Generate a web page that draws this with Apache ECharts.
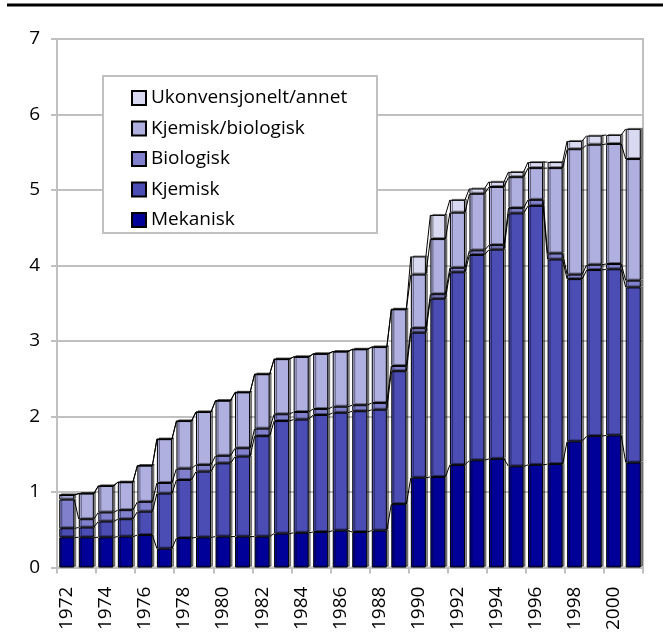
<!DOCTYPE html>
<html>
<head>
<meta charset="utf-8">
<script src="https://cdn.jsdelivr.net/npm/echarts@6/dist/echarts.min.js"></script>
<style>
  html, body { margin: 0; padding: 0; background: #fff; }
  #chart { width: 663px; height: 633px; }
</style>
</head>
<body>
<div id="chart"></div>
<script>
const years = [];
for (let y = 1972; y <= 2001; y++) years.push(String(y));

const mekanisk = [0.40, 0.40, 0.40, 0.41, 0.43, 0.25, 0.39, 0.40, 0.41, 0.41,
  0.41, 0.45, 0.46, 0.47, 0.49, 0.47, 0.49, 0.84, 1.19, 1.20,
  1.36, 1.42, 1.44, 1.34, 1.36, 1.37, 1.67, 1.74, 1.75, 1.39];
const kjemisk = [0.12, 0.13, 0.21, 0.23, 0.31, 0.73, 0.77, 0.87, 0.97, 1.06,
  1.33, 1.49, 1.50, 1.55, 1.56, 1.60, 1.60, 1.76, 1.92, 2.36,
  2.55, 2.72, 2.77, 3.35, 3.43, 2.71, 2.15, 2.20, 2.20, 2.32];
const biologisk = [0.38, 0.11, 0.12, 0.12, 0.13, 0.14, 0.15, 0.09, 0.10, 0.11,
  0.10, 0.09, 0.10, 0.08, 0.08, 0.08, 0.09, 0.07, 0.06, 0.06,
  0.06, 0.06, 0.06, 0.07, 0.08, 0.08, 0.06, 0.07, 0.07, 0.09];
const kjemiskBiologisk = [0.06, 0.34, 0.35, 0.37, 0.48, 0.58, 0.63, 0.70, 0.73, 0.74,
  0.72, 0.73, 0.73, 0.73, 0.73, 0.74, 0.74, 0.75, 0.71, 0.73,
  0.73, 0.75, 0.77, 0.41, 0.42, 1.13, 1.66, 1.59, 1.59, 1.61];
const ukonvensjonelt = [0, 0, 0, 0, 0, 0, 0, 0, 0, 0,
  0, 0, 0, 0, 0, 0, 0, 0, 0.24, 0.32,
  0.17, 0.07, 0.07, 0.07, 0.08, 0.08, 0.11, 0.12, 0.12, 0.40];

const yTicks = [0, 1, 2, 3, 4, 5, 6, 7];

const names = ['Mekanisk', 'Kjemisk', 'Biologisk', 'Kjemisk/biologisk', 'Ukonvensjonelt/annet'];
const values = [mekanisk, kjemisk, biologisk, kjemiskBiologisk, ukonvensjonelt];
const colors = ['#000099', '#4b4db5', '#8080cc', '#b0b0e0', '#d9d9f1'];

const font = 'Open Sans, DejaVu Sans, sans-serif';

// cumulative tops for the connecting lines between bars
const lineData = [];
const cum = years.map(() => 0);
values.forEach(function (arr) {
  arr.forEach(function (v, i) { cum[i] += v; });
  for (let i = 0; i < years.length - 1; i++) {
    lineData.push([i, cum[i], cum[i + 1]]);
  }
});

const barSeries = names.map(function (n, k) {
  return {
    name: n,
    type: 'bar',
    stack: 'total',
    barWidth: '77%',
    data: values[k],
    itemStyle: {
      color: colors[k],
      borderColor: '#000',
      borderWidth: 1,
      shadowColor: 'rgba(0,0,0,0.45)',
      shadowOffsetX: 2,
      shadowOffsetY: -1,
      shadowBlur: 0
    },
    emphasis: { disabled: true }
  };
});

const seriesLines = {
  type: 'custom',
  silent: true,
  data: lineData,
  encode: { x: 0, y: [1, 2] },
  z: 3,
  renderItem: function (params, api) {
    const i = api.value(0);
    const p1 = api.coord([i, api.value(1)]);
    const p2 = api.coord([i + 1, api.value(2)]);
    const hw = api.size([1, 0])[0] * 0.385;
    return {
      type: 'line',
      shape: { x1: p1[0] + hw, y1: p1[1], x2: p2[0] - hw, y2: p2[1] },
      style: { stroke: '#000', lineWidth: 1 }
    };
  }
};

const chart = echarts.init(document.getElementById('chart'));
chart.setOption({
  animation: false,
  backgroundColor: '#fff',
  grid: {
    left: 57, right: 20, top: 39, bottom: 63,
    show: true, borderColor: '#c0c0c0', borderWidth: 2
  },
  legend: {
    orient: 'vertical',
    left: 126,
    top: 83,
    z: 10,
    data: names.slice().reverse(),
    itemWidth: 14,
    itemHeight: 14,
    itemGap: 10.5,
    icon: 'rect',
    textStyle: { fontFamily: font, fontSize: 19, color: '#000', lineHeight: 20 }
  },
  graphic: [
    {
      type: 'line',
      shape: { x1: 7, y1: 5, x2: 663, y2: 5 },
      style: { stroke: '#000', lineWidth: 3 }
    },
    {
      type: 'rect',
      z: 2,
      shape: { x: 103, y: 76, width: 274, height: 157 },
      style: { fill: '#fff', stroke: '#c0c0c0', lineWidth: 2 }
    }
  ],
  xAxis: {
    type: 'category',
    data: years,
    axisLine: { lineStyle: { color: '#c0c0c0', width: 2 } },
    axisTick: { show: true, length: 6, lineStyle: { color: '#c0c0c0', width: 2 } },
    axisLabel: {
      interval: 1,
      rotate: 90,
      margin: 19,
      fontFamily: font,
      fontSize: 19,
      color: '#000'
    }
  },
  yAxis: {
    type: 'value',
    min: yTicks[0],
    max: yTicks[yTicks.length - 1],
    interval: 1,
    axisLine: { show: true, lineStyle: { color: '#c0c0c0', width: 2 } },
    axisTick: { show: true, length: 6, lineStyle: { color: '#c0c0c0', width: 2 } },
    axisLabel: { margin: 17, fontFamily: font, fontSize: 19, color: '#000' },
    splitLine: { lineStyle: { color: '#c0c0c0', width: 2 } }
  },
  series: barSeries.concat([seriesLines])
});
</script>
</body>
</html>
